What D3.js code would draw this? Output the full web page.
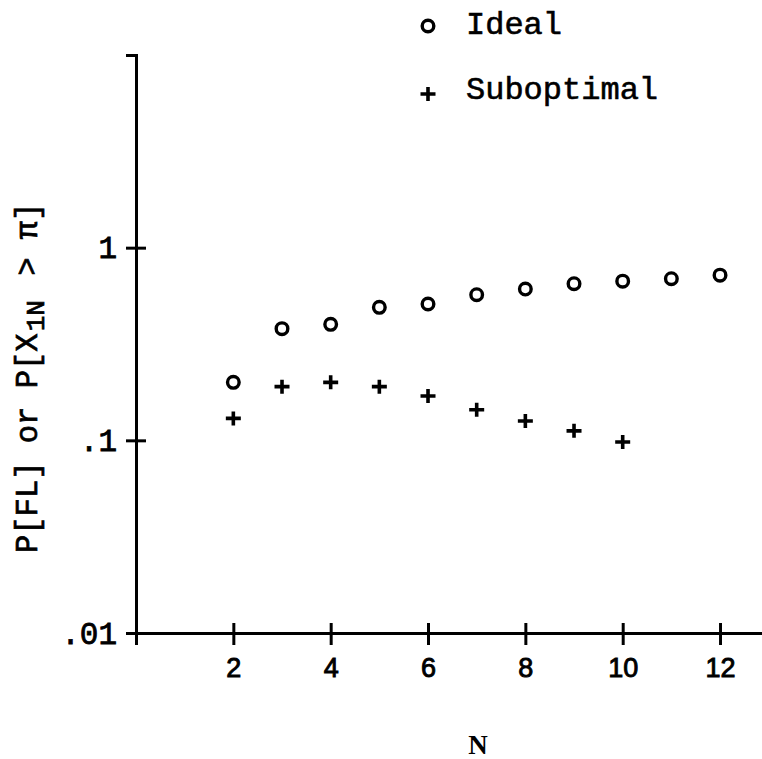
<!DOCTYPE html>
<html>
<head>
<meta charset="utf-8">
<script src="https://cdn.jsdelivr.net/npm/d3@7"></script>
<style>
  body { margin: 0; background: #fff; }
</style>
</head>
<body>
<svg id="chart" width="762" height="759"></svg>
<script>
// values (log scale on y)
const nIdeal = [2, 3, 4, 5, 6, 7, 8, 9, 10, 11, 12];
const idealValues = [0.20, 0.38, 0.40, 0.49, 0.51, 0.57, 0.61, 0.65, 0.67, 0.69, 0.72];
const nSub = [2, 3, 4, 5, 6, 7, 8, 9, 10];
const suboptimalValues = [0.13, 0.19, 0.20, 0.19, 0.17, 0.144, 0.126, 0.112, 0.098];
const xTickValues = [0, 2, 4, 6, 8, 10, 12];
const yTickValues = [0.01, 0.1, 1];
const yTickLabels = [".01", ".1", "1"];
const legendLabels = ["Ideal", "Suboptimal"];

const monoFont = "'Liberation Mono', 'DejaVu Sans Mono', monospace";

const svg = d3.select("#chart");

const x = d3.scaleLinear().domain([0, 13]).range([136, 768.7]);
const y = d3.scaleLog().domain([0.01, 10]).range([633, 55]);

// plus marker path
const plusPath = (cx, cy) => `M${cx - 7.5},${cy}H${cx + 7.5}M${cx},${cy - 7}V${cy + 7}`;

// x axis
const xAxisG = svg.append("g")
    .attr("transform", `translate(0,${y(0.01)})`)
    .call(d3.axisBottom(x)
        .tickValues(xTickValues)
        .tickSizeOuter(0)
        .tickSize(12)
        .tickFormat(d => d === 0 ? "" : d));
xAxisG.select(".domain").attr("stroke", "#000").attr("stroke-width", 3);
xAxisG.selectAll(".tick line")
    .attr("y1", -10).attr("y2", 12)
    .attr("stroke", "#000").attr("stroke-width", 3);
xAxisG.selectAll(".tick text")
    .attr("y", 44).attr("dy", null)
    .attr("fill", "#000")
    .attr("stroke", "#000").attr("stroke-width", 0.9)
    .style("font-family", "'Liberation Sans', Arial, sans-serif")
    .style("font-size", "27px");

// y axis
const yAxisG = svg.append("g")
    .attr("transform", `translate(${x(0)},0)`)
    .call(d3.axisLeft(y)
        .tickValues(yTickValues)
        .tickSizeOuter(0)
        .tickSize(10)
        .tickFormat((d, i) => yTickLabels[i]));
yAxisG.select(".domain").attr("stroke", "#000").attr("stroke-width", 3);
yAxisG.selectAll(".tick line")
    .attr("x1", -10).attr("x2", 10)
    .attr("stroke", "#000").attr("stroke-width", 3);
yAxisG.selectAll(".tick text")
    .attr("x", -19).attr("dy", 10)
    .attr("fill", "#000")
    .attr("stroke", "#000").attr("stroke-width", 0.8)
    .style("font-family", monoFont)
    .style("font-size", "31px");

// y axis title
const yTitle = svg.append("text")
    .attr("transform", "translate(37,553) rotate(-90)")
    .attr("fill", "#000")
    .attr("stroke", "#000").attr("stroke-width", 0.7)
    .style("font-family", monoFont)
    .style("font-size", "30.5px")
    .style("white-space", "pre");
yTitle.append("tspan").text("P[FL] or P[X");
yTitle.append("tspan").attr("dy", 7).attr("dx", 2).style("font-size", "26px").text("1N");
yTitle.append("tspan").attr("dy", -7).attr("dx", 6).text(" > π]");

// x axis title
svg.append("text")
    .attr("x", 478).attr("y", 754)
    .attr("text-anchor", "middle")
    .attr("fill", "#000")
    .style("font-family", "'Liberation Serif', 'DejaVu Serif', serif")
    .style("font-weight", "bold")
    .style("font-size", "27px")
    .text("N");

// ideal points
svg.append("g").selectAll("circle")
    .data(nIdeal)
    .join("circle")
    .attr("cx", d => x(d))
    .attr("cy", (d, i) => y(idealValues[i]))
    .attr("r", 5.8)
    .attr("fill", "none")
    .attr("stroke", "#000")
    .attr("stroke-width", 3.4);

// suboptimal points
svg.append("g").selectAll("path")
    .data(nSub)
    .join("path")
    .attr("d", (d, i) => plusPath(x(d), y(suboptimalValues[i])))
    .attr("fill", "none")
    .attr("stroke", "#000")
    .attr("stroke-width", 3.6);

// legend
const legend = svg.append("g");
const legendY = [26, 94];
legend.selectAll("text")
    .data(legendLabels)
    .join("text")
    .attr("x", 466)
    .attr("y", (d, i) => legendY[i] + (i === 0 ? 8 : 5))
    .attr("fill", "#000")
    .attr("stroke", "#000").attr("stroke-width", 0.6)
    .style("font-family", monoFont)
    .style("font-size", "32px")
    .text(d => d);
legend.append("circle")
    .attr("cx", 428).attr("cy", legendY[0]).attr("r", 5.8)
    .attr("fill", "none").attr("stroke", "#000").attr("stroke-width", 3.4);
legend.append("path")
    .attr("d", plusPath(428, legendY[1]))
    .attr("fill", "none").attr("stroke", "#000").attr("stroke-width", 3.6);
</script>
</body>
</html>
